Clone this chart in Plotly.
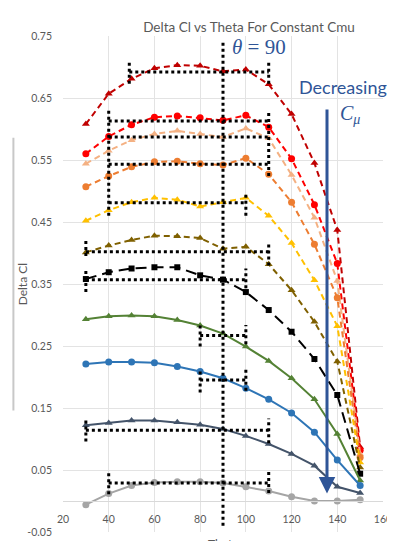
import plotly.graph_objects as go

theta = [30, 40, 50, 60, 70, 80, 90, 100, 110, 120, 130, 140, 150]

s1 = [0.608, 0.657, 0.681, 0.698, 0.703, 0.702, 0.693, 0.696, 0.672, 0.624, 0.545, 0.437, 0.087]
s2 = [0.560, 0.588, 0.607, 0.619, 0.621, 0.618, 0.614, 0.622, 0.603, 0.552, 0.478, 0.383, 0.082]
s3 = [0.544, 0.565, 0.582, 0.592, 0.597, 0.592, 0.587, 0.601, 0.585, 0.526, 0.457, 0.355, 0.076]
s4 = [0.507, 0.524, 0.539, 0.547, 0.548, 0.544, 0.542, 0.553, 0.527, 0.482, 0.414, 0.328, 0.070]
s5 = [0.452, 0.469, 0.482, 0.489, 0.486, 0.475, 0.482, 0.489, 0.460, 0.416, 0.356, 0.282, 0.062]
s6 = [0.401, 0.412, 0.421, 0.428, 0.427, 0.424, 0.407, 0.410, 0.382, 0.340, 0.289, 0.225, 0.054]
s7 = [0.358, 0.369, 0.375, 0.377, 0.377, 0.364, 0.357, 0.337, 0.308, 0.273, 0.229, 0.171, 0.044]
s8 = [0.293, 0.298, 0.299, 0.298, 0.292, 0.283, 0.270, 0.249, 0.226, 0.198, 0.164, 0.108, 0.033]
s9 = [0.221, 0.224, 0.224, 0.223, 0.217, 0.209, 0.198, 0.182, 0.164, 0.142, 0.111, 0.066, 0.025]
s10 = [0.122, 0.126, 0.130, 0.130, 0.127, 0.123, 0.116, 0.105, 0.092, 0.076, 0.057, 0.023, 0.013]
s11 = [-0.006, 0.012, 0.025, 0.030, 0.031, 0.031, 0.029, 0.023, 0.016, 0.007, 0.000, 0.000, 0.002]

x_ticks = [20, 40, 60, 80, 100, 120, 140, 160]
y_ticks = [-0.05, 0.05, 0.15, 0.25, 0.35, 0.45, 0.55, 0.65, 0.75]
y_tick_text = ["-0.05", "0.05", "0.15", "0.25", "0.35", "0.45", "0.55", "0.65", "0.75"]

# dotted overlay: horizontal segments (y, x0, x1) and vertical segments (x, y0, y1)
bracket_h = [
    (0.692, 49, 110), (0.613, 40, 110), (0.587, 40, 110), (0.543, 40, 110),
    (0.481, 40, 100), (0.402, 30, 110), (0.357, 30, 100), (0.267, 80, 100),
    (0.195, 80, 100), (0.114, 30, 110), (0.029, 40, 110),
]
bracket_v = [
    (49, 0.673, 0.710), (110, 0.673, 0.710), (40, 0.460, 0.632), (110, 0.524, 0.630),
    (100, 0.460, 0.497), (30, 0.395, 0.420), (110, 0.380, 0.418), (30, 0.337, 0.375),
    (100, 0.343, 0.375), (80, 0.249, 0.284), (100, 0.253, 0.284), (80, 0.175, 0.210),
    (100, 0.178, 0.212), (30, 0.096, 0.132), (110, 0.093, 0.133), (40, 0.011, 0.048),
    (110, 0.013, 0.048), (90, -0.040, 0.742),
]

arrow_x = 135.5
arrow_top = 0.634
arrow_tip = 0.012

series = [
    (s1, "#C00000", "triangle-up", "6px,4px"),
    (s2, "#FF0000", "circle", "6px,4px"),
    (s3, "#F4B183", "triangle-up", "6px,4px"),
    (s4, "#ED7D31", "circle", "6px,4px"),
    (s5, "#FFC000", "triangle-up", "6px,4px"),
    (s6, "#7F6000", "triangle-up", "6px,4px"),
    (s7, "#000000", "square", "11px,6px"),
    (s8, "#548235", "triangle-up", "solid"),
    (s9, "#2E75B6", "circle", "solid"),
    (s10, "#44546A", "triangle-up", "solid"),
    (s11, "#A5A5A5", "circle", "solid"),
]

fig = go.Figure()
for vals, col, sym, dash in series:
    fig.add_trace(go.Scatter(
        x=theta, y=vals, mode="lines+markers",
        line=dict(color=col, width=2, dash=dash),
        marker=dict(color=col, symbol=sym, size=7 if sym != "square" else 6),
        showlegend=False, hoverinfo="skip", cliponaxis=False,
    ))

hx, hy = [], []
for y, x0, x1 in bracket_h:
    hx += [x0, x1, None]
    hy += [y, y, None]
for x, y0, y1 in bracket_v:
    hx += [x, x, None]
    hy += [y0, y1, None]
fig.add_trace(go.Scatter(x=hx, y=hy, mode="lines",
                         line=dict(color="black", width=3, dash="dot"),
                         showlegend=False, hoverinfo="skip"))

blue = "#2F5597"
tick_font = dict(family="Lato, 'Open Sans', sans-serif", size=10.5, color="#595959")

fig.add_annotation(x=arrow_x, y=arrow_tip, ax=arrow_x, ay=arrow_top,
                   xref="x", yref="y", axref="x", ayref="y",
                   showarrow=True, arrowhead=2, arrowsize=1.1, arrowwidth=3,
                   arrowcolor=blue, text="", standoff=0)
fig.add_annotation(x=122.5, y=0.667, xref="x", yref="y", xanchor="left", yanchor="middle",
                   text="Decreasing", showarrow=False,
                   font=dict(family="Lato, sans-serif", size=18, color=blue))
fig.add_annotation(x=140.5, y=0.624, xref="x", yref="y", xanchor="left", yanchor="middle",
                   text="<i>C</i><sub><i>μ</i></sub>", showarrow=False,
                   font=dict(family="'Liberation Serif', serif", size=20, color=blue))
fig.add_annotation(x=93.0, y=0.733, xref="x", yref="y", xanchor="left", yanchor="middle",
                   text="<i>θ</i> = 90", showarrow=False,
                   font=dict(family="'Liberation Serif', serif", size=21, color=blue))

fig.add_annotation(x=-0.127, y=0.5, xref="paper", yref="paper", textangle=-90,
                   text="Delta Cl", showarrow=False, xanchor="center", yanchor="middle",
                   font=dict(family="Lato, sans-serif", size=12, color="#595959"))
fig.add_annotation(x=0.5, y=0, xref="paper", yref="paper", yshift=-2,
                   text="Theta", showarrow=False, xanchor="center", yanchor="top",
                   font=dict(family="Lato, sans-serif", size=12, color="#595959"))

fig.add_shape(type="line", xref="paper", yref="paper",
              x0=-0.155, x1=-0.155, y0=0.245, y1=0.795,
              line=dict(color="#C8C8C8", width=2))

fig.update_layout(
    width=395, height=541,
    margin=dict(l=55, r=12, t=28, b=11),
    paper_bgcolor="white", plot_bgcolor="white",
    title=dict(text="Delta Cl vs Theta For Constant Cmu", x=241 / 395, xanchor="center",
               y=1 - 19 / 541, yanchor="middle",
               font=dict(family="Lato, sans-serif", size=13.5, color="#595959")),
    xaxis=dict(range=[20, 160], tickvals=x_ticks, showticklabels=False,
               showgrid=True, gridcolor="#E3E3E3", gridwidth=1, zeroline=False,
               showline=False, ticks=""),
    xaxis2=dict(range=[20, 160], tickvals=x_ticks, overlaying="x", anchor="free",
                position=0.0625, side="bottom", showgrid=False, zeroline=False,
                showline=True, linecolor="#D9D9D9", linewidth=1, ticks="",
                ticklabelstandoff=8, tickfont=tick_font),
    yaxis=dict(range=[-0.05, 0.75], tickvals=y_ticks, ticktext=y_tick_text,
               showgrid=True, gridcolor="#E3E3E3", gridwidth=1, zeroline=False,
               showline=False, ticks="", ticklabelstandoff=10, tickfont=tick_font),
)
fig.add_trace(go.Scatter(x=[20, 160], y=[0, 0], xaxis="x2", yaxis="y", mode="lines",
                         line=dict(color="rgba(0,0,0,0)"), showlegend=False, hoverinfo="skip"))

fig.write_html("out.html")
